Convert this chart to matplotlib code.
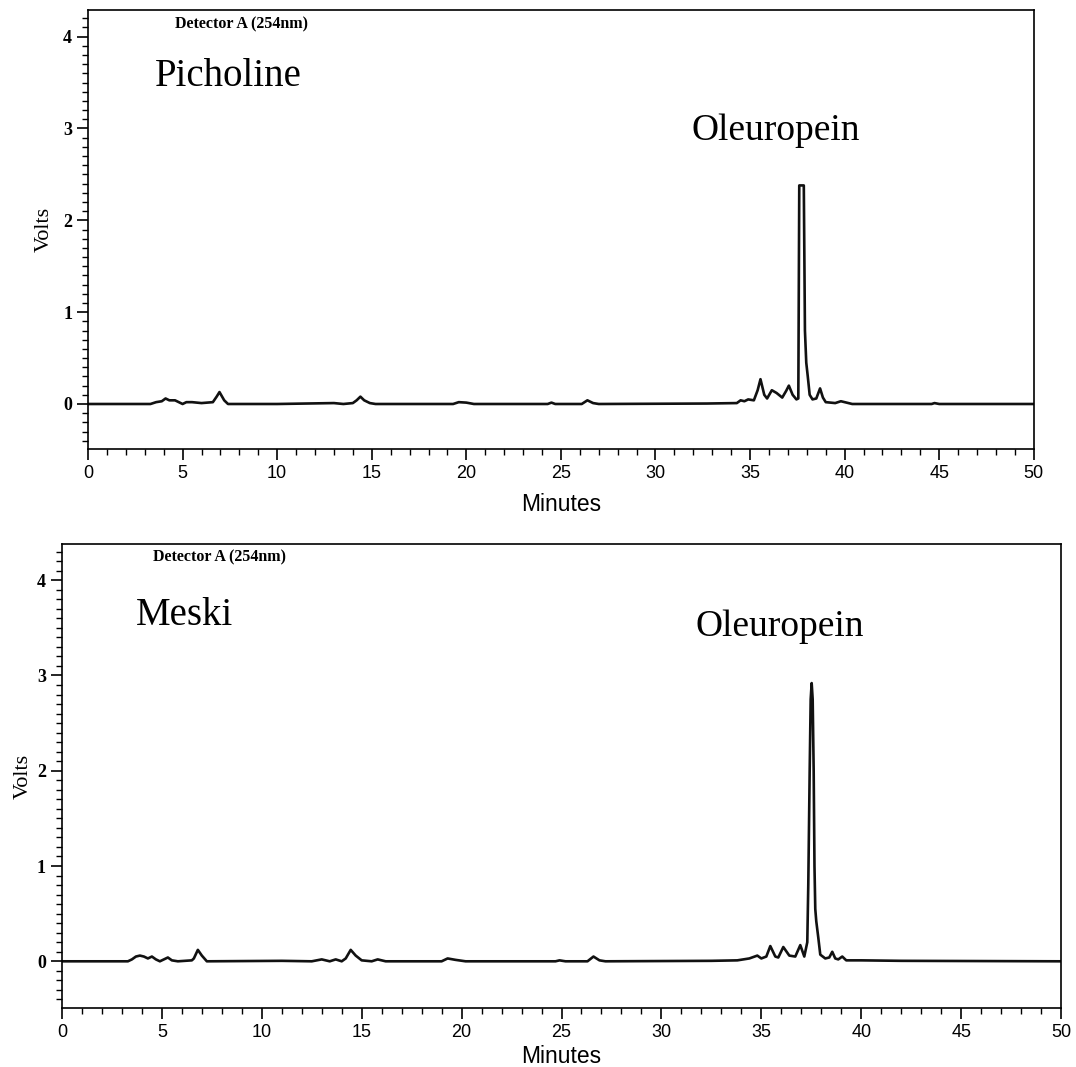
import matplotlib.pyplot as plt
from matplotlib.ticker import MultipleLocator

# Picholine trace, points (minutes, volts)
pich_t = [0, 3.3, 3.6, 3.9, 4.1, 4.3, 4.6, 4.8, 5.0, 5.2, 5.5, 6.0, 6.6, 6.8, 6.95,
          7.2, 7.4, 10.0, 13.0, 13.5, 14.0, 14.2, 14.4, 14.6, 14.9, 15.2, 19.3, 19.6,
          20.0, 20.4, 24.3, 24.5, 24.7, 26.1, 26.4, 26.7, 27.0, 32.7, 34.3, 34.5,
          34.7, 34.9, 35.2, 35.4, 35.55, 35.75, 35.9, 36.15, 36.4, 36.7, 36.9, 37.05,
          37.25, 37.45, 37.55, 37.6, 37.84, 37.9, 37.97, 38.05, 38.15, 38.3, 38.5,
          38.7, 38.85, 39.0, 39.5, 39.8, 40.0, 40.4, 44.6, 44.75, 45.0, 50.0]
pich_v = [0, 0, 0.02, 0.03, 0.06, 0.04, 0.04, 0.02, 0.0, 0.02, 0.02, 0.01, 0.02, 0.08,
          0.13, 0.04, 0.0, 0.0, 0.01, 0.0, 0.01, 0.04, 0.08, 0.04, 0.01, 0.0, 0.0,
          0.02, 0.015, 0.0, 0.0, 0.015, 0.0, 0.0, 0.04, 0.01, 0.0, 0.005, 0.01, 0.04,
          0.03, 0.05, 0.04, 0.15, 0.27, 0.1, 0.06, 0.15, 0.12, 0.07, 0.14, 0.2, 0.1,
          0.05, 0.06, 2.38, 2.38, 0.8, 0.45, 0.3, 0.1, 0.05, 0.06, 0.17, 0.07, 0.02,
          0.01, 0.03, 0.02, 0.0, 0.0, 0.01, 0.0, 0.0]

# Meski trace
mesk_t = [0, 3.3, 3.5, 3.7, 3.9, 4.1, 4.3, 4.5, 4.7, 4.9, 5.1, 5.3, 5.5, 5.8, 6.5,
          6.6, 6.8, 7.0, 7.25, 11.0, 12.5, 13.0, 13.4, 13.7, 14.0, 14.2, 14.45, 14.7,
          15.0, 15.5, 15.8, 16.2, 19.0, 19.3, 19.7, 20.2, 24.7, 24.9, 25.2, 26.3,
          26.6, 26.9, 27.2, 32.5, 33.8, 34.4, 34.8, 35.0, 35.25, 35.45, 35.7, 35.85,
          36.1, 36.4, 36.7, 36.95, 37.15, 37.3, 37.35, 37.42, 37.47, 37.52, 37.57,
          37.62, 37.66, 37.7, 37.75, 37.85, 37.95, 38.2, 38.4, 38.55, 38.7, 38.85,
          39.05, 39.25, 40.0, 42.0, 50.0]
mesk_v = [0, 0, 0.02, 0.05, 0.06, 0.05, 0.03, 0.05, 0.02, 0.0, 0.02, 0.04, 0.01, 0.0,
          0.01, 0.03, 0.12, 0.06, 0.0, 0.005, 0.0, 0.02, 0.0, 0.02, 0.0, 0.03, 0.12,
          0.06, 0.01, 0.0, 0.02, 0.0, 0.0, 0.03, 0.015, 0.0, 0.0, 0.01, 0.0, 0.0,
          0.05, 0.01, 0.0, 0.005, 0.01, 0.03, 0.06, 0.03, 0.05, 0.16, 0.05, 0.04,
          0.15, 0.06, 0.05, 0.17, 0.05, 0.2, 0.8, 2.0, 2.75, 2.92, 2.75, 2.0, 1.0,
          0.55, 0.42, 0.25, 0.07, 0.03, 0.04, 0.1, 0.03, 0.02, 0.05, 0.01, 0.01,
          0.005, 0.0]

serif = ['Liberation Serif', 'DejaVu Serif']
sans = ['Liberation Sans', 'DejaVu Sans']

fig = plt.figure(figsize=(10.76, 10.67), dpi=100)
ax1 = fig.add_axes([0.0818, 0.5792, 0.879, 0.4114])
ax2 = fig.add_axes([0.0576, 0.0553, 0.9285, 0.4349])


def style(ax, ytop, ypad, xpad):
	ax.set_xlim(0, 50)
	ax.set_ylim(-0.49, ytop)
	ax.xaxis.set_major_locator(MultipleLocator(5))
	ax.xaxis.set_minor_locator(MultipleLocator(1))
	ax.yaxis.set_major_locator(MultipleLocator(1))
	ax.yaxis.set_minor_locator(MultipleLocator(0.1))
	ax.set_yticks([0, 1, 2, 3, 4])
	ax.tick_params(which='major', direction='out', length=8, width=1.2, top=False, right=False)
	ax.tick_params(which='minor', direction='out', length=4.5, width=1.0, top=False, right=False)
	for s in ax.spines.values():
		s.set_linewidth(1.2)
	for lab in ax.get_yticklabels():
		lab.set_family(serif)
		lab.set_fontweight('bold')
		lab.set_fontsize(13)
	for lab in ax.get_xticklabels():
		lab.set_family(sans)
		lab.set_fontsize(13)
	ax.set_xlabel('Minutes', family=sans, fontsize=16.5, labelpad=xpad)
	ax.set_ylabel('Volts', family=serif, fontsize=16, labelpad=ypad)


ax1.plot(pich_t, pich_v, color='#111111', lw=1.9)
style(ax1, 4.29, 7, 8)
ax1.text(4.6, 4.13, 'Detector A (254nm)', family=serif, fontweight='bold', fontsize=11.5, va='center')
ax1.text(3.55, 3.46, 'Picholine', family=serif, fontsize=28, va='baseline')
ax1.text(31.9, 2.88, 'Oleuropein', family=serif, fontsize=27, va='baseline')

ax2.plot(mesk_t, mesk_v, color='#111111', lw=1.9)
style(ax2, 4.38, 3, 3)
ax2.text(4.55, 4.24, 'Detector A (254nm)', family=serif, fontweight='bold', fontsize=11.5, va='center')
ax2.text(3.7, 3.53, 'Meski', family=serif, fontsize=28, va='baseline')
ax2.text(31.7, 3.41, 'Oleuropein', family=serif, fontsize=27, va='baseline')

fig.savefig('out.png', dpi=100, facecolor='white')
